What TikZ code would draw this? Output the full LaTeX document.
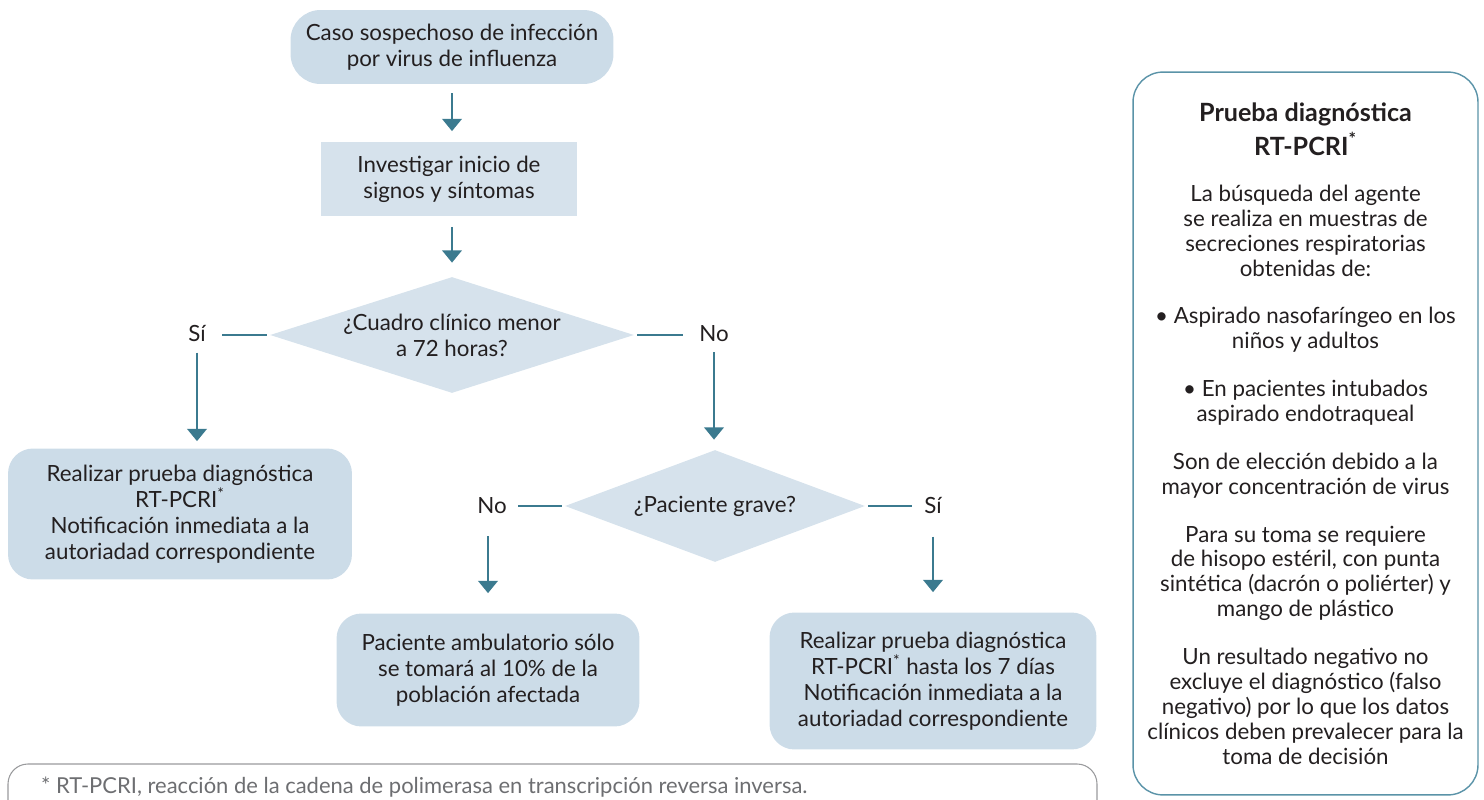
\documentclass[tikz,border=0pt]{standalone}
\usepackage{fontspec}
\setmainfont{Lato}
\usetikzlibrary{shapes.geometric, arrows.meta, positioning}
\definecolor{boxblue}{HTML}{CCDCE8}
\definecolor{boxlight}{HTML}{D6E2EC}
\definecolor{arrowteal}{HTML}{3B7A8F}
\definecolor{panelteal}{HTML}{5A93A8}
\definecolor{txtdark}{HTML}{231F20}
\definecolor{footgray}{HTML}{6D6E71}

\begin{document}
\begin{tikzpicture}[x=0.02cm, y=-0.02cm,
    every node/.style={font=\fontsize{12.7}{14.8}\selectfont, text=txtdark, align=center},
    roundbox/.style={fill=boxblue, rounded corners=0.5cm, inner sep=0},
    plainbox/.style={fill=boxlight, inner sep=0},
    decision/.style={diamond, fill=boxlight, inner sep=0},
    answer/.style={inner sep=0},
    flow/.style={arrowteal, line width=1.6pt, -{Triangle[width=11pt,length=7pt]}},
    branch/.style={arrowteal, line width=1.6pt}]
  \clip (0,0) rectangle (1484,800);

  % main flow
  \node[roundbox, rounded corners=0.6cm, minimum width=6.46cm, minimum height=1.48cm] (caso) at (452,47) {Caso sospechoso de infección\\por virus de influenza};
  \node[plainbox, minimum width=5.12cm, minimum height=1.5cm] (investigar) at (449,179) {Investigar inicio de\\signos y síntomas};
  \node[decision, aspect=3.14, minimum width=7.28cm, minimum height=2.32cm] (cuadro) at (452,335) {¿Cuadro clínico menor\\a 72 horas?};
  \node[answer] (si1) at (197,334) {Sí};
  \node[answer] (no1) at (714,334) {No};
  \node[roundbox, minimum width=6.88cm, minimum height=2.62cm] (prueba) at (180,514) {Realizar prueba diagnóstica\\RT-PCRI\textsuperscript{*}\\Notificación inmediata a la\\autoriadad correspondiente};
  \node[decision, aspect=2.68, minimum width=6cm, minimum height=2.24cm] (grave) at (715,506) {¿Paciente grave?};
  \node[answer] (no2) at (492,506) {No};
  \node[answer] (si2) at (933,506) {Sí};
  \node[roundbox, minimum width=6.06cm, minimum height=2.26cm] (ambulatorio) at (488,670) {Paciente ambulatorio sólo\\se tomará al 10\% de la\\población afectada};
  \node[roundbox, minimum width=6.54cm, minimum height=2.74cm] (prueba7) at (933,681) {Realizar prueba diagnóstica\\RT-PCRI\textsuperscript{*} hasta los 7 días\\Notificación inmediata a la\\autoriadad correspondiente};

  \draw[flow, shorten <=0.18cm, shorten >=0.2cm] (caso.south) -- (caso.south |- investigar.north);
  \draw[flow, shorten <=0.2cm, shorten >=0.28cm] (caso.south |- investigar.south) -- (cuadro.north);
  \draw[branch, shorten <=0.06cm, shorten >=0.32cm] (cuadro.west) -- (cuadro.west -| si1.east);
  \draw[branch, shorten <=0.06cm, shorten >=0.32cm] (cuadro.east) -- (cuadro.east -| no1.west);
  \draw[flow, shorten <=0.2cm, shorten >=0.14cm] (si1.south) -- (si1.south |- prueba.north);
  \draw[flow, shorten <=0.2cm, shorten >=0.2cm] (no1.south) -- (no1.south |- grave.north);
  \draw[branch, shorten <=0.06cm, shorten >=0.22cm] (grave.west) -- (grave.west -| no2.east);
  \draw[branch, shorten <=0.06cm, shorten >=0.24cm] (grave.east) -- (grave.east -| si2.west);
  \draw[flow, shorten <=0.44cm, shorten >=0.4cm] (no2.south -| ambulatorio.north) -- (ambulatorio.north);
  \draw[flow, shorten <=0.44cm, shorten >=0.4cm] (si2.south) -- (si2.south |- prueba7.north);

  % footnote
  \draw[footgray!70, line width=0.6pt, rounded corners=0.4cm] (8,764) rectangle (1097,840);
  \node[anchor=west, text=footgray, font=\fontsize{12.5}{14}\selectfont] (nota) at (35,787) {* RT-PCRI, reacción de la cadena de polimerasa en transcripción reversa inversa.};

  % side panel
  \node[draw=panelteal, line width=0.8pt, rounded corners=0.6cm, minimum width=6.9cm, minimum height=14.46cm, font=\fontsize{12.7}{14.2}\selectfont] (panel) at (1305.5,433.5) {%
    \textbf{\fontsize{14.3}{16}\selectfont Prueba diagnóstica}\\[3pt]
    \textbf{\fontsize{14.3}{16}\selectfont RT-PCRI\textsuperscript{*}}\\[12pt]
    La búsqueda del agente\\se realiza en muestras de\\secreciones respiratorias\\obtenidas de:\\[13pt]
    • Aspirado nasofaríngeo en los\\niños y adultos\\[13pt]
    • En pacientes intubados\\aspirado endotraqueal\\[13pt]
    Son de elección debido a la\\mayor concentración de virus\\[13pt]
    Para su toma se requiere\\de hisopo estéril, con punta\\sintética (dacrón o poliérter) y\\mango de plástico\\[13pt]
    Un resultado negativo no\\excluye el diagnóstico (falso\\negativo) por lo que los datos\\clínicos deben prevalecer para la\\toma de decisión};
\end{tikzpicture}
\end{document}
